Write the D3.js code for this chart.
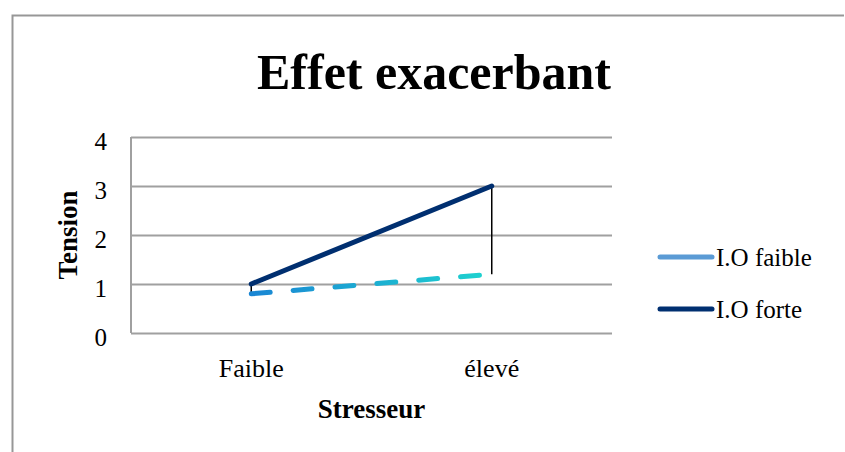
<!DOCTYPE html>
<html>
<head>
<meta charset="utf-8">
<script src="https://cdn.jsdelivr.net/npm/d3@7"></script>
<style>
	body { margin: 0; background: #fff; }
	svg { display: block; }
	svg text { font-family: 'Liberation Serif', 'DejaVu Serif', serif; }
</style>
</head>
<body>
<svg id="chart" width="845" height="452"></svg>
<script>
const CATEGORIES = ['Faible', 'élevé'];
const SERIES_NAMES = ['I.O faible', 'I.O forte'];
const FAIBLE_VALUES = [0.8, 1.2];
const FORTE_VALUES = [1, 3];
const Y_TICKS = [0, 1, 2, 3, 4];

const COLOR_FAIBLE = '#5b9bd5';
const COLOR_FORTE = '#002f70';

const $svg = d3.select('#chart');

const margin = { left: 131, right: 612, top: 137, bottom: 333 };

const x = d3.scaleBand().domain(CATEGORIES).range([margin.left, margin.right]);
const y = d3.scaleLinear().domain([0, 4]).range([margin.bottom, margin.top]);
const cx = d => x(d) + x.bandwidth() / 2;

// outer frame
$svg.append('path')
	.attr('d', 'M12.5,460 L12.5,15.5 L844,15.5')
	.attr('fill', 'none')
	.attr('stroke', '#979797')
	.attr('stroke-width', 2);

// title
$svg.append('text')
	.attr('x', 434)
	.attr('y', 89)
	.attr('text-anchor', 'middle')
	.attr('font-weight', 'bold')
	.attr('font-size', 50)
	.text('Effet exacerbant');

// gridlines + y axis
const yAxis = d3.axisLeft(y)
	.tickValues(Y_TICKS)
	.tickFormat(d3.format('d'))
	.tickSize(-(margin.right - margin.left))
	.tickPadding(24);
const $gy = $svg.append('g')
	.attr('transform', `translate(${margin.left},0)`)
	.call(yAxis)
	.attr('font-family', null)
	.attr('font-size', 25);
$gy.select('.domain').remove();
$gy.selectAll('.tick line').attr('stroke', '#a0a0a0').attr('stroke-width', 2);
$gy.selectAll('.tick text')
	.attr('fill', '#000')
	.attr('dy', '0.5em');

$svg.append('line')
	.attr('x1', margin.left).attr('x2', margin.left)
	.attr('y1', margin.top).attr('y2', margin.bottom)
	.attr('stroke', '#a0a0a0').attr('stroke-width', 2);

// x axis labels
const xAxis = d3.axisBottom(x).tickSize(0).tickPadding(26);
const $gx = $svg.append('g')
	.attr('transform', `translate(0,${margin.bottom})`)
	.call(xAxis)
	.attr('font-family', null)
	.attr('font-size', 26);
$gx.select('.domain').remove();
$gx.selectAll('.tick text').attr('fill', '#000');

// axis titles
$svg.append('text')
	.attr('x', (margin.left + margin.right) / 2)
	.attr('y', 418)
	.attr('text-anchor', 'middle')
	.attr('font-weight', 'bold')
	.attr('font-size', 27)
	.text('Stresseur');

$svg.append('text')
	.attr('transform', `translate(77,${(margin.top + margin.bottom) / 2}) rotate(-90)`)
	.attr('text-anchor', 'middle')
	.attr('font-weight', 'bold')
	.attr('font-size', 27)
	.text('Tension');

// gradient for dashed series
const defs = $svg.append('defs');
const grad = defs.append('linearGradient')
	.attr('id', 'faibleGrad')
	.attr('gradientUnits', 'userSpaceOnUse')
	.attr('x1', cx(CATEGORIES[0])).attr('x2', cx(CATEGORIES[1]))
	.attr('y1', 0).attr('y2', 0);
grad.append('stop').attr('offset', '0%').attr('stop-color', '#1a86d4');
grad.append('stop').attr('offset', '100%').attr('stop-color', '#1ed4cf');

const line = d3.line().x((d, i) => cx(CATEGORIES[i])).y(d => y(d));

// high-low lines
$svg.selectAll('.hilo')
	.data(CATEGORIES)
	.enter()
	.append('line')
	.attr('x1', d => cx(d)).attr('x2', d => cx(d))
	.attr('y1', (d, i) => y(FORTE_VALUES[i]))
	.attr('y2', (d, i) => y(FAIBLE_VALUES[i]))
	.attr('stroke', '#000')
	.attr('stroke-width', 1.5);

$svg.append('path')
	.datum(FAIBLE_VALUES)
	.attr('d', line)
	.attr('fill', 'none')
	.attr('stroke', 'url(#faibleGrad)')
	.attr('stroke-width', 5)
	.attr('stroke-linecap', 'round')
	.attr('stroke-dasharray', '19,23');

$svg.append('path')
	.datum(FORTE_VALUES)
	.attr('d', line)
	.attr('fill', 'none')
	.attr('stroke', COLOR_FORTE)
	.attr('stroke-width', 5)
	.attr('stroke-linecap', 'round');

// legend
const legend = [
	{ name: SERIES_NAMES[0], color: COLOR_FAIBLE },
	{ name: SERIES_NAMES[1], color: COLOR_FORTE }
];
const $leg = $svg.selectAll('.legend')
	.data(legend)
	.enter()
	.append('g')
	.attr('transform', (d, i) => `translate(0,${257 + i * 52})`);
$leg.append('line')
	.attr('x1', 660).attr('x2', 712)
	.attr('stroke', d => d.color)
	.attr('stroke-width', 5)
	.attr('stroke-linecap', 'round');
$leg.append('text')
	.attr('x', 716)
	.attr('dy', '0.35em')
	.attr('font-size', 25)
	.text(d => d.name);
</script>
</body>
</html>
